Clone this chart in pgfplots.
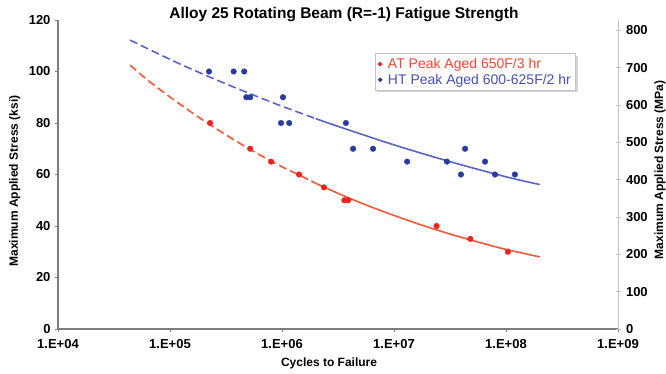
\documentclass[border=0pt]{standalone}
\usepackage{pgfplots}
\pgfplotsset{compat=1.18}
\usepackage{fontspec}
\setmainfont{Liberation Sans}
\usetikzlibrary{shadows}
\definecolor{ptred}{RGB}{235,35,30}
\definecolor{lnred}{RGB}{242,88,58}
\definecolor{txred}{RGB}{240,70,50}
\definecolor{ptblue}{RGB}{40,60,160}
\definecolor{lnblue}{RGB}{90,100,200}
\definecolor{txblue}{RGB}{70,80,180}
\definecolor{axgray}{RGB}{125,125,125}
\definecolor{axlight}{RGB}{195,195,195}
\begin{document}
\begin{tikzpicture}
\useasboundingbox (0pt,0pt) rectangle (666pt,373pt);
\begin{axis}[
  at={(58pt,44pt)}, anchor=south west,
  scale only axis, width=560pt, height=309pt,
  xmode=log, xmin=1e4, xmax=1e9,
  ymin=0, ymax=120, ytick={0,20,...,120},
  xtick={1e4,1e5,1e6,1e7,1e8,1e9},
  xticklabels={1.E+04,1.E+05,1.E+06,1.E+07,1.E+08,1.E+09},
  xminorticks=false,
  /pgf/number format/assume math mode=true,
  axis x line*=bottom, axis y line*=left,
  axis line style={axgray, line width=1.6pt, -},
  tick align=outside, major tick length=3pt,
  tick style={axgray, line width=0.8pt},
  ticklabel style={font=\fontsize{13}{15}\selectfont\bfseries},
  yticklabel style={xshift=-1pt},
  xticklabel style={yshift=-4pt},
  xlabel={Cycles to Failure},
  xlabel style={font=\fontsize{12}{14}\selectfont\bfseries, at={(axis description cs:0.484,-0.112)}, anchor=center},
  ylabel={Maximum Applied Stress (ksi)},
  ylabel style={font=\fontsize{12}{14}\selectfont\bfseries, at={(axis description cs:-0.077,0.479)}, anchor=center},
  legend style={at={(axis description cs:0.566,0.892)}, anchor=north west,
    draw=axlight, line width=0.8pt, fill=white, drop shadow={shadow xshift=2pt, shadow yshift=-2pt, opacity=0.35},
    font=\fontsize{14}{16}\selectfont, inner xsep=3pt, inner ysep=2.5pt, row sep=0pt},
  legend cell align=left,
  legend image post style={mark size=1.8pt},
  clip=false,
]
% trend lines
\addplot[forget plot, lnred, line width=1.6pt, dash pattern=on 8pt off 4pt, smooth] coordinates {
 (4.4e4,102.5)(6.3e4,96.7)(1e5,90.1)(1.78e5,82.4)(3.16e5,75.4)(5.6e5,68.9)(1e6,63.0)(1.41e6,59.9)(2e6,56.6)};
\addplot[forget plot, lnred, line width=1.6pt, smooth] coordinates {
 (2e6,56.6)(3.16e6,52.7)(5.6e6,48.2)(1e7,44.1)(1.78e7,40.3)(3.16e7,36.9)(5.6e7,33.8)(1e8,30.9)(2e8,28.0)};
\addplot[forget plot, lnblue, line width=1.6pt, dash pattern=on 8pt off 4pt, smooth] coordinates {
 (4.4e4,112.2)(1e5,104.7)(1.78e5,99.8)(3.16e5,95.2)(5.6e5,90.8)(1e6,86.5)(2e6,81.7)};
\addplot[forget plot, lnblue, line width=1.6pt, smooth] coordinates {
 (2e6,81.7)(3.16e6,78.7)(1e7,71.5)(3.16e7,65.0)(1e8,59.1)(2e8,56.1)};
% data
\addplot[only marks, mark=*, mark size=2.8pt, color=ptred] coordinates {
 (2.28e5,80)(5.2e5,70)(8.0e5,65)(1.42e6,60)(2.37e6,55)(3.6e6,50)(3.9e6,50)(2.4e7,40)(4.8e7,35)(1.04e8,30)};
\addlegendentry{\hspace{4pt}\textcolor{txred}{AT Peak Aged 650F/3 hr}}
\addplot[only marks, mark=*, mark size=2.8pt, color=ptblue] coordinates {
 (2.23e5,100)(3.7e5,100)(4.6e5,100)(4.8e5,90)(5.2e5,90)(1.02e6,90)(9.8e5,80)(1.16e6,80)(3.72e6,80)(4.31e6,70)(6.5e6,70)(1.31e7,65)(2.97e7,65)(3.96e7,60)(4.31e7,70)(6.5e7,65)(7.98e7,60)(1.2e8,60)};
\addlegendentry{\hspace{4pt}\textcolor{txblue}{HT Peak Aged 600-625F/2 hr}}
\end{axis}
\begin{axis}[
  at={(58pt,44pt)}, anchor=south west,
  scale only axis, width=560pt, height=309pt,
  xmode=log, xmin=1e4, xmax=1e9,
  hide x axis, axis y line*=right,
  ymin=0, ymax=827.38, ytick={0,100,...,800},
  /pgf/number format/assume math mode=true,
  axis line style={axlight, line width=0.8pt, -},
  tick align=center, major tick length=5pt,
  tick style={axlight, line width=0.8pt},
  ticklabel style={font=\fontsize{13}{15}\selectfont\bfseries},
  yticklabel style={xshift=2pt},
  ylabel={Maximum Applied Stress (MPa)},
  ylabel style={font=\fontsize{12}{14}\selectfont\bfseries, at={(axis description cs:1.075,0.515)}, anchor=center, rotate=0},
]
\addplot[draw=none] coordinates {(1e5,0)(1e6,800)};
\end{axis}
\node[font=\fontsize{15.5}{18}\selectfont\bfseries, anchor=base] at (344pt,354pt) {Alloy 25 Rotating Beam (R=-1) Fatigue Strength};
\end{tikzpicture}
\end{document}
